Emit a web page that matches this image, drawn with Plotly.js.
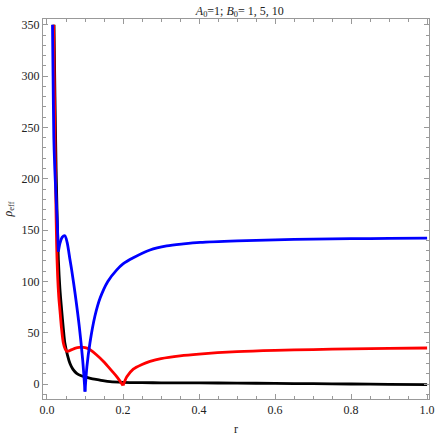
<!DOCTYPE html>
<html>
<head>
<meta charset="utf-8">
<script src="https://cdn.plot.ly/plotly-3.0.1.min.js"></script>
<style>
  html, body { margin: 0; padding: 0; background: #fff; }
  #graph { width: 436px; height: 436px; }
</style>
</head>
<body>
<div id="graph"></div>
<script>
// values: r and rho_eff for B0 = 1, 5, 10
var rBlack = [0.0185, 0.021, 0.024, 0.027, 0.030, 0.034, 0.0386, 0.043, 0.047, 0.054, 0.0605, 0.068, 0.078, 0.09, 0.104, 0.12, 0.139, 0.166, 0.2, 0.25, 0.3, 0.4, 0.5, 0.6, 0.7, 0.8, 0.9, 1.0];
var vBlack = [350, 280, 210, 160, 121, 93, 72, 54, 40, 28, 20, 14.5, 10.4, 8, 6.5, 5, 3.9, 2.3, 1.6, 1.3, 1.2, 1.1, 0.9, 0.6, 0.3, 0, -0.3, -0.6];

var rRed = [0.0175, 0.019, 0.021, 0.023, 0.0254, 0.028, 0.031, 0.034, 0.038, 0.043, 0.048, 0.052, 0.056, 0.065, 0.075, 0.085, 0.095, 0.105, 0.115, 0.13, 0.15, 0.17, 0.185, 0.2];
var vRed = [350, 300, 240, 185, 135, 105, 85, 72, 55, 40, 34, 32, 32, 33.5, 35, 35.8, 35.8, 35, 33, 28.5, 21.5, 13, 6.5, -1.5];
var rRed2 = [0.2, 0.21, 0.227, 0.25, 0.271, 0.3, 0.35, 0.4, 0.5, 0.6, 0.7, 0.8, 0.9, 1.0];
var vRed2 = [-1.5, 7, 14.5, 19, 22, 24.8, 27.5, 29.2, 31.5, 32.8, 33.6, 34.3, 34.8, 35.1];

var rBlue = [0.0145, 0.016, 0.018, 0.0205, 0.023, 0.027, 0.030];
var vBlue = [350, 300, 240, 210, 189, 157, 129];
var rBlue2 = [0.030, 0.034, 0.04, 0.047, 0.053, 0.0605, 0.065, 0.074, 0.085, 0.094, 0.1];
var vBlue2 = [129, 137, 143, 144.5, 138, 121, 111, 88, 56, 23, -7.5];
var rBlue3 = [0.1, 0.105, 0.113, 0.126, 0.14, 0.16, 0.183, 0.2, 0.227, 0.271, 0.315, 0.359, 0.403, 0.5, 0.6, 0.7, 0.8, 0.9, 1.0];
var vBlue3 = [-7.5, 17, 40, 66, 84, 100, 111, 117, 123, 130.6, 134.5, 136.5, 138, 139.5, 140.5, 141.2, 141.6, 141.9, 142.1];

// pieces between cusps are smoothed separately so the cusps stay sharp
var curves = [
    {x: rBlack, y: vBlack, color: 'black'},
    {x: rRed, y: vRed, color: 'red'},
    {x: rRed2, y: vRed2, color: 'red'},
    {x: rBlue, y: vBlue, color: 'blue'},
    {x: rBlue2, y: vBlue2, color: 'blue'},
    {x: rBlue3, y: vBlue3, color: 'blue'}
];

var allLines = [];
for (var i = 0; i < curves.length; i++) {
    allLines.push({
        x: curves[i].x,
        y: curves[i].y,
        mode: 'lines',
        type: 'scatter',
        line: {color: curves[i].color, width: 2.8, shape: 'spline', smoothing: 0.8},
        showlegend: false
    });
}

var serif = '"Liberation Serif", "Times New Roman", serif';
var tickFont = {family: serif, size: 12, color: '#222'};

var frame = {
    width: 436,
    height: 436,
    margin: {l: 43, r: 7, t: 19, b: 37},
    paper_bgcolor: 'white',
    plot_bgcolor: 'white',
    font: {family: serif},
    title: {
        text: '<i>A</i><sub>0</sub>=1; <i>B</i><sub>0</sub>= 1, 5, 10',
        font: {family: serif, size: 12, color: '#222'},
        x: 0.55, xanchor: 'center', y: 0.985, yanchor: 'top'
    },
    xaxis: {
        range: [-0.0105, 1.005],
        dtick: 0.2, tick0: 0, tickformat: '.1f',
        ticks: 'inside', ticklen: 5, tickcolor: '#999',
        minor: {dtick: 0.05, ticks: 'inside', ticklen: 3, tickcolor: '#999'},
        showline: true, linecolor: '#999', linewidth: 1, mirror: 'ticks',
        showgrid: false, zeroline: false,
        tickfont: tickFont,
        title: {text: 'r', font: {family: serif, size: 12, color: '#222'}, standoff: 12}
    },
    yaxis: {
        range: [-14.6, 355.7],
        dtick: 50, tick0: 0,
        ticks: 'inside', ticklen: 5, tickcolor: '#999',
        minor: {dtick: 10, ticks: 'inside', ticklen: 3, tickcolor: '#999'},
        showline: true, linecolor: '#999', linewidth: 1, mirror: 'ticks',
        showgrid: false, zeroline: false,
        tickfont: tickFont,
        title: {text: '<i>ρ</i><sub>eff</sub>', font: {family: serif, size: 12, color: '#222'}, standoff: 6}
    }
};

Plotly.newPlot('graph', allLines, frame, {displayModeBar: false, staticPlot: true});
</script>
</body>
</html>
